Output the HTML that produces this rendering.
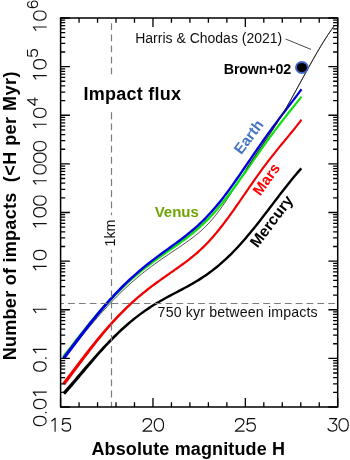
<!DOCTYPE html><html><head><meta charset="utf-8"><title>Impact flux</title>
<style>html,body{margin:0;padding:0;background:#fff;}svg{display:block;will-change:transform;}text{font-family:"Liberation Sans",sans-serif;}</style></head><body>
<svg width="350" height="460" viewBox="0 0 350 460">
<rect width="350" height="460" fill="#fff"/>
<path d="M63.60 358.60 C64.16 357.90 65.85 355.82 66.98 354.42 C68.11 353.03 69.23 351.63 70.36 350.23 C71.49 348.83 72.61 347.43 73.74 346.03 C74.87 344.64 75.99 343.24 77.12 341.85 C78.25 340.45 79.37 339.06 80.50 337.68 C81.63 336.29 82.75 334.91 83.88 333.54 C85.01 332.17 86.13 330.80 87.26 329.44 C88.39 328.09 89.51 326.74 90.64 325.40 C91.77 324.06 92.89 322.73 94.02 321.41 C95.15 320.09 96.27 318.78 97.40 317.48 C98.53 316.19 99.65 314.90 100.78 313.63 C101.91 312.36 103.03 311.10 104.16 309.85 C105.29 308.61 106.41 307.38 107.54 306.16 C108.67 304.94 109.79 303.74 110.92 302.55 C112.05 301.37 113.17 300.19 114.30 299.04 C115.43 297.88 116.55 296.74 117.68 295.61 C118.81 294.49 119.93 293.38 121.06 292.28 C122.19 291.19 123.31 290.11 124.44 289.05 C125.57 287.98 126.69 286.94 127.82 285.91 C128.95 284.88 130.07 283.86 131.20 282.86 C132.33 281.86 133.45 280.88 134.58 279.91 C135.71 278.94 136.83 277.98 137.96 277.04 C139.09 276.10 140.21 275.17 141.34 274.26 C142.47 273.35 143.59 272.45 144.72 271.57 C145.85 270.68 146.97 269.81 148.10 268.95 C149.23 268.09 150.35 267.24 151.48 266.40 C152.61 265.57 153.73 264.74 154.86 263.92 C155.99 263.11 157.11 262.30 158.24 261.50 C159.37 260.70 160.49 259.91 161.62 259.13 C162.75 258.34 163.87 257.57 165.00 256.80 C166.13 256.02 167.25 255.26 168.38 254.50 C169.51 253.73 170.63 252.98 171.76 252.22 C172.89 251.46 174.01 250.70 175.14 249.95 C176.27 249.19 177.39 248.43 178.52 247.67 C179.65 246.91 180.77 246.14 181.90 245.37 C183.03 244.59 184.15 243.82 185.28 243.03 C186.41 242.23 187.53 241.43 188.66 240.62 C189.79 239.80 190.91 238.97 192.04 238.11 C193.17 237.26 194.29 236.39 195.42 235.49 C196.55 234.59 197.67 233.67 198.80 232.71 C199.93 231.75 201.05 230.77 202.18 229.74 C203.31 228.72 204.43 227.66 205.56 226.55 C206.69 225.44 207.81 224.29 208.94 223.09 C210.07 221.88 211.19 220.63 212.32 219.32 C213.45 218.02 214.57 216.65 215.70 215.24 C216.83 213.83 217.95 212.36 219.08 210.84 C220.21 209.33 221.33 207.76 222.46 206.16 C223.59 204.55 224.71 202.90 225.84 201.22 C226.97 199.54 228.09 197.82 229.22 196.09 C230.35 194.35 231.47 192.58 232.60 190.81 C233.73 189.04 234.85 187.25 235.98 185.46 C237.11 183.67 238.23 181.87 239.36 180.08 C240.49 178.29 241.61 176.50 242.74 174.72 C243.87 172.95 244.99 171.17 246.12 169.42 C247.25 167.66 248.37 165.92 249.50 164.19 C250.63 162.46 251.75 160.74 252.88 159.04 C254.01 157.34 255.13 155.65 256.26 153.97 C257.39 152.30 258.51 150.64 259.64 148.98 C260.77 147.32 261.89 145.68 263.02 144.03 C264.15 142.38 265.27 140.74 266.40 139.08 C267.53 137.43 268.65 135.78 269.78 134.11 C270.91 132.43 272.03 130.75 273.16 129.03 C274.29 127.32 275.41 125.58 276.54 123.82 C277.67 122.05 278.79 120.25 279.92 118.42 C281.05 116.59 282.17 114.73 283.30 112.84 C284.43 110.95 285.55 109.02 286.68 107.07 C287.81 105.12 288.93 103.14 290.06 101.14 C291.19 99.14 292.31 97.12 293.44 95.09 C294.57 93.06 295.69 91.01 296.82 88.95 C297.95 86.90 299.07 84.83 300.20 82.77 C301.33 80.71 302.45 78.64 303.58 76.58 C304.71 74.52 305.83 72.45 306.96 70.41 C308.09 68.36 309.21 66.32 310.34 64.30 C311.47 62.28 312.59 60.27 313.72 58.29 C314.85 56.31 315.97 54.35 317.10 52.41 C318.23 50.48 319.35 48.57 320.48 46.70 C321.61 44.83 322.73 42.98 323.86 41.18 C324.99 39.38 326.11 37.61 327.24 35.89 C328.37 34.17 329.49 32.49 330.62 30.86 C331.75 29.24 333.44 26.92 334.00 26.13" fill="none" stroke="#222" stroke-width="0.8"/>
<path d="M65.06 394.76 L67.03 392.53 L69.01 390.26 L70.99 387.97 L72.96 385.67 L74.94 383.35 L76.91 381.02 L78.88 378.68 L80.85 376.34 L82.82 374.00 L84.79 371.66 L86.75 369.32 L88.72 367.00 L90.68 364.68 L92.65 362.38 L94.61 360.10 L96.57 357.83 L98.53 355.59 L100.49 353.37 L102.45 351.17 L104.41 349.00 L106.36 346.86 L108.32 344.75 L110.28 342.68 L112.24 340.64 L114.21 338.64 L116.17 336.67 L118.14 334.74 L120.10 332.85 L122.07 331.00 L124.03 329.18 L125.99 327.40 L127.96 325.67 L129.92 323.97 L131.88 322.31 L133.85 320.69 L135.81 319.11 L137.78 317.58 L139.74 316.08 L141.71 314.62 L143.68 313.20 L145.64 311.81 L147.61 310.46 L149.57 309.14 L151.54 307.85 L153.51 306.59 L155.48 305.37 L157.44 304.17 L159.41 303.00 L161.38 301.85 L163.35 300.72 L165.32 299.62 L167.29 298.53 L169.27 297.46 L171.24 296.39 L173.22 295.34 L175.19 294.30 L177.17 293.26 L179.15 292.22 L181.13 291.18 L183.11 290.13 L185.10 289.08 L187.08 288.01 L189.07 286.92 L191.05 285.82 L193.04 284.69 L195.03 283.54 L197.02 282.35 L199.01 281.14 L201.01 279.89 L203.00 278.60 L204.99 277.27 L206.99 275.91 L208.98 274.50 L210.97 273.05 L212.97 271.55 L214.96 270.00 L216.95 268.41 L218.94 266.77 L220.94 265.08 L222.93 263.34 L224.92 261.56 L226.91 259.72 L228.90 257.83 L230.89 255.89 L232.88 253.91 L234.87 251.87 L236.86 249.79 L238.85 247.66 L240.84 245.49 L242.82 243.27 L244.81 241.01 L246.80 238.71 L248.78 236.37 L250.77 233.99 L252.75 231.58 L254.73 229.13 L256.72 226.66 L258.70 224.16 L260.68 221.64 L262.66 219.10 L264.65 216.54 L266.63 213.96 L268.61 211.38 L270.59 208.78 L272.57 206.18 L274.55 203.58 L276.53 200.99 L278.50 198.40 L280.48 195.81 L282.46 193.25 L284.43 190.69 L286.41 188.16 L288.39 185.66 L290.36 183.18 L292.33 180.74 L294.31 178.34 L296.28 175.97 L298.25 173.66 L300.22 171.39 L302.20 169.18 L300.40 167.58 L298.42 169.81 L296.43 172.09 L294.44 174.43 L292.46 176.81 L290.47 179.23 L288.49 181.68 L286.51 184.17 L284.52 186.68 L282.54 189.22 L280.56 191.78 L278.58 194.35 L276.60 196.94 L274.62 199.53 L272.64 202.13 L270.66 204.73 L268.68 207.33 L266.70 209.92 L264.72 212.50 L262.75 215.07 L260.77 217.63 L258.79 220.16 L256.82 222.68 L254.84 225.17 L252.87 227.63 L250.89 230.06 L248.92 232.46 L246.94 234.82 L244.97 237.15 L243.00 239.43 L241.03 241.67 L239.06 243.88 L237.09 246.03 L235.12 248.14 L233.15 250.20 L231.18 252.22 L229.21 254.18 L227.24 256.10 L225.27 257.97 L223.30 259.78 L221.34 261.55 L219.37 263.26 L217.41 264.93 L215.44 266.55 L213.47 268.12 L211.51 269.64 L209.54 271.12 L207.58 272.55 L205.61 273.94 L203.65 275.28 L201.68 276.59 L199.72 277.86 L197.75 279.10 L195.78 280.30 L193.82 281.47 L191.85 282.61 L189.88 283.73 L187.91 284.82 L185.94 285.90 L183.96 286.96 L181.99 288.01 L180.01 289.06 L178.03 290.10 L176.05 291.14 L174.07 292.18 L172.09 293.22 L170.11 294.28 L168.13 295.34 L166.14 296.42 L164.15 297.51 L162.16 298.63 L160.18 299.76 L158.19 300.92 L156.20 302.10 L154.21 303.31 L152.22 304.54 L150.23 305.81 L148.23 307.11 L146.24 308.44 L144.25 309.81 L142.26 311.21 L140.27 312.65 L138.27 314.13 L136.28 315.64 L134.29 317.19 L132.30 318.78 L130.30 320.40 L128.30 322.07 L126.31 323.77 L124.31 325.52 L122.32 327.30 L120.32 329.12 L118.33 330.98 L116.34 332.88 L114.34 334.81 L112.35 336.78 L110.36 338.79 L108.36 340.83 L106.36 342.89 L104.36 344.99 L102.36 347.12 L100.36 349.27 L98.36 351.45 L96.36 353.66 L94.36 355.89 L92.37 358.14 L90.37 360.41 L88.38 362.70 L86.38 365.00 L84.39 367.31 L82.40 369.62 L80.40 371.94 L78.41 374.27 L76.43 376.59 L74.44 378.91 L72.46 381.23 L70.47 383.53 L68.49 385.81 L66.51 388.07 L64.53 390.31 L62.54 392.53Z" fill="#000"/>
<path d="M65.14 384.90 L67.11 382.28 L69.09 379.65 L71.06 377.01 L73.04 374.37 L75.01 371.72 L76.98 369.08 L78.95 366.44 L80.92 363.81 L82.89 361.18 L84.85 358.57 L86.81 355.97 L88.78 353.39 L90.74 350.83 L92.70 348.29 L94.66 345.77 L96.62 343.29 L98.58 340.83 L100.54 338.39 L102.50 335.99 L104.46 333.62 L106.42 331.29 L108.38 328.99 L110.34 326.72 L112.30 324.50 L114.27 322.31 L116.24 320.17 L118.21 318.06 L120.17 315.99 L122.14 313.95 L124.11 311.96 L126.07 310.01 L128.04 308.09 L130.01 306.21 L131.97 304.37 L133.94 302.56 L135.91 300.80 L137.87 299.07 L139.84 297.37 L141.81 295.71 L143.78 294.08 L145.75 292.48 L147.72 290.91 L149.69 289.36 L151.66 287.84 L153.63 286.35 L155.61 284.88 L157.58 283.43 L159.55 281.99 L161.53 280.57 L163.50 279.17 L165.48 277.77 L167.45 276.38 L169.43 274.99 L171.41 273.61 L173.39 272.23 L175.37 270.84 L177.36 269.44 L179.34 268.03 L181.33 266.60 L183.31 265.16 L185.30 263.69 L187.29 262.19 L189.28 260.66 L191.27 259.10 L193.26 257.49 L195.25 255.84 L197.25 254.14 L199.24 252.38 L201.23 250.57 L203.23 248.69 L205.22 246.74 L207.22 244.73 L209.21 242.65 L211.20 240.49 L213.19 238.27 L215.18 235.97 L217.17 233.61 L219.16 231.18 L221.15 228.69 L223.14 226.15 L225.13 223.55 L227.11 220.90 L229.10 218.20 L231.08 215.47 L233.07 212.70 L235.05 209.90 L237.03 207.08 L239.01 204.23 L240.99 201.37 L242.97 198.50 L244.95 195.62 L246.93 192.74 L248.91 189.87 L250.89 187.01 L252.87 184.16 L254.85 181.33 L256.82 178.52 L258.80 175.74 L260.78 172.99 L262.75 170.28 L264.73 167.60 L266.70 164.95 L268.68 162.34 L270.66 159.77 L272.63 157.22 L274.61 154.71 L276.58 152.23 L278.56 149.78 L280.54 147.35 L282.51 144.93 L284.49 142.53 L286.47 140.14 L288.45 137.75 L290.43 135.35 L292.42 132.94 L294.40 130.50 L296.38 128.04 L298.37 125.53 L300.35 122.97 L302.34 120.36 L300.66 119.08 L298.68 121.69 L296.71 124.23 L294.73 126.72 L292.75 129.17 L290.78 131.59 L288.80 134.00 L286.82 136.39 L284.83 138.78 L282.85 141.18 L280.87 143.58 L278.88 146.00 L276.90 148.43 L274.91 150.89 L272.93 153.38 L270.94 155.90 L268.96 158.45 L266.97 161.04 L264.99 163.66 L263.00 166.31 L261.01 169.00 L259.03 171.73 L257.04 174.48 L255.06 177.27 L253.07 180.08 L251.09 182.91 L249.11 185.77 L247.12 188.63 L245.14 191.51 L243.16 194.38 L241.18 197.26 L239.20 200.13 L237.21 202.98 L235.23 205.82 L233.26 208.64 L231.28 211.43 L229.30 214.18 L227.32 216.90 L225.34 219.58 L223.37 222.22 L221.39 224.80 L219.42 227.33 L217.45 229.79 L215.47 232.20 L213.50 234.53 L211.53 236.80 L209.56 239.00 L207.59 241.13 L205.62 243.18 L203.66 245.17 L201.69 247.08 L199.72 248.94 L197.75 250.72 L195.79 252.46 L193.82 254.13 L191.85 255.76 L189.88 257.35 L187.91 258.90 L185.94 260.41 L183.96 261.89 L181.99 263.35 L180.01 264.79 L178.04 266.20 L176.06 267.61 L174.08 269.00 L172.10 270.38 L170.12 271.76 L168.14 273.14 L166.15 274.52 L164.17 275.91 L162.18 277.30 L160.20 278.71 L158.21 280.13 L156.22 281.56 L154.23 283.02 L152.24 284.49 L150.25 285.99 L148.26 287.51 L146.27 289.06 L144.28 290.64 L142.28 292.24 L140.29 293.88 L138.30 295.55 L136.31 297.26 L134.31 299.00 L132.32 300.77 L130.32 302.58 L128.33 304.43 L126.33 306.31 L124.34 308.24 L122.34 310.20 L120.35 312.20 L118.35 314.23 L116.36 316.31 L114.37 318.43 L112.37 320.58 L110.38 322.77 L108.38 324.99 L106.38 327.25 L104.38 329.54 L102.37 331.86 L100.37 334.22 L98.37 336.61 L96.37 339.03 L94.37 341.48 L92.37 343.95 L90.36 346.45 L88.36 348.98 L86.36 351.52 L84.36 354.09 L82.36 356.67 L80.37 359.27 L78.37 361.88 L76.38 364.50 L74.39 367.13 L72.40 369.76 L70.41 372.39 L68.42 375.02 L66.44 377.65 L64.45 380.26 L62.46 382.86Z" fill="#f00000"/>
<path d="M64.86 358.08 L66.84 355.51 L68.82 352.94 L70.80 350.37 L72.77 347.80 L74.75 345.23 L76.73 342.67 L78.71 340.11 L80.68 337.57 L82.65 335.04 L84.62 332.52 L86.58 330.02 L88.55 327.54 L90.52 325.08 L92.48 322.64 L94.45 320.23 L96.41 317.84 L98.37 315.49 L100.34 313.16 L102.30 310.86 L104.27 308.59 L106.23 306.36 L108.19 304.15 L110.16 301.98 L112.13 299.85 L114.10 297.76 L116.07 295.70 L118.04 293.68 L120.01 291.69 L121.98 289.74 L123.95 287.83 L125.92 285.95 L127.89 284.10 L129.86 282.29 L131.83 280.51 L133.80 278.77 L135.77 277.06 L137.74 275.38 L139.71 273.74 L141.69 272.12 L143.66 270.53 L145.63 268.97 L147.61 267.44 L149.58 265.93 L151.56 264.44 L153.53 262.97 L155.51 261.52 L157.48 260.09 L159.46 258.67 L161.44 257.27 L163.42 255.87 L165.40 254.48 L167.38 253.10 L169.36 251.72 L171.34 250.34 L173.32 248.95 L175.31 247.56 L177.30 246.16 L179.28 244.75 L181.27 243.32 L183.26 241.87 L185.25 240.40 L187.24 238.90 L189.23 237.37 L191.23 235.81 L193.22 234.21 L195.21 232.56 L197.21 230.87 L199.21 229.13 L201.20 227.34 L203.20 225.50 L205.19 223.60 L207.19 221.64 L209.18 219.63 L211.18 217.56 L213.17 215.43 L215.16 213.24 L217.16 211.00 L219.15 208.69 L221.14 206.33 L223.13 203.91 L225.12 201.44 L227.11 198.92 L229.10 196.36 L231.09 193.74 L233.07 191.08 L235.06 188.39 L237.04 185.65 L239.02 182.89 L241.00 180.10 L242.99 177.30 L244.97 174.47 L246.95 171.64 L248.93 168.80 L250.91 165.96 L252.89 163.11 L254.86 160.28 L256.84 157.45 L258.82 154.64 L260.80 151.83 L262.77 149.05 L264.75 146.28 L266.73 143.53 L268.71 140.80 L270.68 138.09 L272.66 135.41 L274.64 132.75 L276.61 130.11 L278.59 127.49 L280.57 124.90 L282.54 122.32 L284.52 119.77 L286.50 117.23 L288.47 114.71 L290.45 112.20 L292.43 109.71 L294.41 107.22 L296.39 104.74 L298.37 102.26 L300.35 99.78 L302.33 97.30 L300.67 95.98 L298.69 98.46 L296.70 100.93 L294.72 103.41 L292.73 105.88 L290.75 108.37 L288.76 110.86 L286.77 113.37 L284.78 115.89 L282.80 118.42 L280.81 120.98 L278.82 123.56 L276.83 126.15 L274.84 128.77 L272.85 131.41 L270.87 134.08 L268.88 136.77 L266.89 139.47 L264.90 142.21 L262.91 144.96 L260.93 147.73 L258.94 150.51 L256.95 153.32 L254.96 156.13 L252.98 158.96 L250.99 161.79 L249.00 164.63 L247.02 167.46 L245.03 170.30 L243.05 173.13 L241.06 175.94 L239.08 178.74 L237.10 181.51 L235.12 184.26 L233.13 186.98 L231.15 189.66 L229.17 192.30 L227.20 194.89 L225.22 197.45 L223.24 199.95 L221.27 202.40 L219.30 204.79 L217.32 207.13 L215.35 209.41 L213.38 211.64 L211.41 213.80 L209.43 215.91 L207.46 217.95 L205.49 219.94 L203.52 221.87 L201.55 223.75 L199.58 225.57 L197.61 227.33 L195.65 229.05 L193.68 230.72 L191.70 232.35 L189.73 233.93 L187.76 235.48 L185.79 236.99 L183.81 238.48 L181.84 239.94 L179.86 241.38 L177.89 242.80 L175.91 244.21 L173.93 245.60 L171.95 246.99 L169.97 248.37 L167.99 249.75 L166.00 251.13 L164.02 252.51 L162.03 253.90 L160.05 255.30 L158.06 256.70 L156.07 258.13 L154.08 259.56 L152.09 261.02 L150.10 262.50 L148.11 263.99 L146.12 265.51 L144.13 267.06 L142.14 268.63 L140.15 270.22 L138.16 271.85 L136.17 273.51 L134.17 275.20 L132.18 276.91 L130.18 278.67 L128.19 280.45 L126.19 282.27 L124.20 284.12 L122.20 286.01 L120.21 287.93 L118.21 289.89 L116.22 291.88 L114.22 293.91 L112.23 295.98 L110.23 298.08 L108.24 300.21 L106.24 302.37 L104.23 304.57 L102.23 306.80 L100.23 309.06 L98.23 311.35 L96.23 313.67 L94.23 316.02 L92.23 318.39 L90.23 320.80 L88.23 323.22 L86.23 325.67 L84.23 328.14 L82.23 330.63 L80.23 333.14 L78.24 335.66 L76.25 338.20 L74.26 340.75 L72.27 343.31 L70.29 345.88 L68.30 348.44 L66.31 351.01 L64.33 353.57 L62.34 356.13Z" fill="#10e010"/>
<path d="M64.87 359.28 L66.85 356.66 L68.83 354.04 L70.81 351.41 L72.78 348.78 L74.76 346.16 L76.74 343.53 L78.72 340.91 L80.69 338.30 L82.67 335.70 L84.64 333.12 L86.60 330.55 L88.57 327.99 L90.54 325.46 L92.51 322.95 L94.48 320.47 L96.44 318.01 L98.41 315.57 L100.37 313.17 L102.34 310.79 L104.30 308.45 L106.26 306.13 L108.23 303.85 L110.19 301.61 L112.16 299.40 L114.13 297.23 L116.10 295.10 L118.07 293.00 L120.04 290.94 L122.00 288.91 L123.97 286.92 L125.94 284.97 L127.91 283.05 L129.88 281.17 L131.85 279.32 L133.82 277.51 L135.78 275.73 L137.76 273.99 L139.73 272.28 L141.70 270.60 L143.68 268.95 L145.65 267.33 L147.63 265.73 L149.60 264.16 L151.57 262.61 L153.55 261.09 L155.53 259.58 L157.50 258.09 L159.48 256.62 L161.46 255.16 L163.44 253.71 L165.42 252.26 L167.40 250.83 L169.38 249.39 L171.36 247.96 L173.34 246.52 L175.33 245.07 L177.31 243.62 L179.30 242.15 L181.29 240.66 L183.28 239.16 L185.27 237.63 L187.26 236.07 L189.25 234.48 L191.24 232.85 L193.24 231.18 L195.23 229.47 L197.23 227.71 L199.22 225.90 L201.22 224.04 L203.21 222.12 L205.21 220.14 L207.20 218.11 L209.20 216.01 L211.19 213.86 L213.19 211.64 L215.18 209.36 L217.17 207.02 L219.16 204.63 L221.15 202.17 L223.14 199.66 L225.13 197.10 L227.12 194.48 L229.11 191.82 L231.10 189.11 L233.09 186.35 L235.07 183.56 L237.05 180.74 L239.04 177.88 L241.02 175.01 L243.00 172.11 L244.98 169.21 L246.96 166.29 L248.94 163.38 L250.92 160.47 L252.90 157.56 L254.88 154.66 L256.86 151.78 L258.84 148.91 L260.82 146.06 L262.80 143.22 L264.78 140.41 L266.75 137.62 L268.73 134.86 L270.71 132.11 L272.69 129.39 L274.66 126.69 L276.64 124.02 L278.62 121.36 L280.60 118.72 L282.58 116.09 L284.56 113.48 L286.53 110.88 L288.51 108.28 L290.49 105.69 L292.48 103.10 L294.46 100.50 L296.44 97.89 L298.42 95.26 L300.41 92.61 L302.39 89.93 L300.61 88.61 L298.63 91.28 L296.65 93.92 L294.67 96.54 L292.68 99.15 L290.70 101.74 L288.72 104.33 L286.73 106.92 L284.75 109.51 L282.76 112.11 L280.77 114.73 L278.79 117.35 L276.80 120.00 L274.81 122.66 L272.83 125.34 L270.84 128.04 L268.85 130.77 L266.86 133.51 L264.88 136.28 L262.89 139.08 L260.90 141.89 L258.92 144.73 L256.93 147.58 L254.94 150.45 L252.96 153.34 L250.97 156.24 L248.99 159.14 L247.00 162.05 L245.02 164.97 L243.03 167.87 L241.05 170.77 L239.06 173.66 L237.08 176.53 L235.10 179.37 L233.12 182.18 L231.14 184.96 L229.16 187.69 L227.18 190.39 L225.21 193.04 L223.23 195.64 L221.26 198.18 L219.28 200.67 L217.31 203.11 L215.33 205.48 L213.36 207.79 L211.39 210.05 L209.42 212.24 L207.45 214.37 L205.48 216.44 L203.51 218.45 L201.54 220.40 L199.57 222.29 L197.60 224.13 L195.63 225.92 L193.66 227.66 L191.69 229.35 L189.72 231.00 L187.74 232.61 L185.77 234.18 L183.80 235.73 L181.82 237.25 L179.85 238.74 L177.87 240.22 L175.89 241.68 L173.91 243.13 L171.93 244.57 L169.95 246.01 L167.97 247.44 L165.98 248.88 L164.00 250.32 L162.01 251.76 L160.03 253.21 L158.04 254.68 L156.05 256.16 L154.06 257.65 L152.07 259.16 L150.09 260.70 L148.10 262.25 L146.10 263.83 L144.11 265.44 L142.12 267.07 L140.13 268.73 L138.14 270.42 L136.15 272.15 L134.16 273.90 L132.16 275.68 L130.16 277.50 L128.17 279.35 L126.17 281.24 L124.17 283.16 L122.18 285.12 L120.18 287.11 L118.18 289.14 L116.19 291.21 L114.19 293.31 L112.20 295.45 L110.20 297.63 L108.20 299.84 L106.20 302.07 L104.20 304.35 L102.20 306.65 L100.20 308.99 L98.20 311.36 L96.20 313.76 L94.20 316.18 L92.20 318.64 L90.20 321.12 L88.20 323.62 L86.21 326.15 L84.21 328.69 L82.21 331.25 L80.22 333.83 L78.23 336.42 L76.24 339.03 L74.25 341.65 L72.26 344.27 L70.28 346.89 L68.29 349.51 L66.30 352.13 L64.32 354.75 L62.33 357.35Z" fill="#0000e0"/>
<path d="M246.12 169.42 C246.68 168.55 248.37 165.92 249.50 164.19 C250.63 162.46 251.75 160.74 252.88 159.04 C254.01 157.34 255.13 155.65 256.26 153.97 C257.39 152.30 258.51 150.64 259.64 148.98 C260.77 147.32 261.89 145.68 263.02 144.03 C264.15 142.38 265.27 140.74 266.40 139.08 C267.53 137.43 268.65 135.78 269.78 134.11 C270.91 132.43 272.03 130.75 273.16 129.03 C274.29 127.32 275.41 125.58 276.54 123.82 C277.67 122.05 278.79 120.25 279.92 118.42 C281.05 116.59 282.17 114.73 283.30 112.84 C284.43 110.95 285.55 109.02 286.68 107.07 C287.81 105.12 288.93 103.14 290.06 101.14 C291.19 99.14 292.31 97.12 293.44 95.09 C294.57 93.06 295.69 91.01 296.82 88.95 C297.95 86.90 299.07 84.83 300.20 82.77 C301.33 80.71 302.45 78.64 303.58 76.58 C304.71 74.52 305.83 72.45 306.96 70.41 C308.09 68.36 309.21 66.32 310.34 64.30 C311.47 62.28 312.59 60.27 313.72 58.29 C314.85 56.31 315.97 54.35 317.10 52.41 C318.23 50.48 319.35 48.57 320.48 46.70 C321.61 44.83 322.73 42.98 323.86 41.18 C324.99 39.38 326.11 37.61 327.24 35.89 C328.37 34.17 329.49 32.49 330.62 30.86 C331.75 29.24 333.44 26.92 334.00 26.13" fill="none" stroke="#222" stroke-width="0.8"/>
<line x1="111.5" y1="18" x2="111.5" y2="407.0" stroke="#7c7c7c" stroke-width="1.2" stroke-dasharray="6.8 4.33" stroke-dashoffset="5.83"/>
<line x1="60.6" y1="303.5" x2="337.7" y2="303.5" stroke="#7c7c7c" stroke-width="1.2" stroke-dasharray="6.7 4.14" stroke-dashoffset="3.34"/>
<rect x="80" y="74.5" width="106" height="37.5" fill="#fff"/>
<rect x="100" y="215.2" width="18" height="34.6" fill="#fff"/>
<line x1="285.6" y1="39" x2="311" y2="49.4" stroke="#333" stroke-width="0.9"/>
<ellipse cx="301.9" cy="67.5" rx="6.85" ry="6.4" fill="#3f68cc"/><ellipse cx="301.9" cy="67.5" rx="5.0" ry="4.55" fill="#000"/>
<rect x="60.60" y="18.00" width="277.10" height="389.00" fill="none" stroke="#000" stroke-width="1.5"/>
<path d="M60.60 18.00v9.00M60.60 407.00v-9.00M79.07 18.00v4.80M79.07 407.00v-4.80M97.55 18.00v4.80M97.55 407.00v-4.80M116.02 18.00v4.80M116.02 407.00v-4.80M134.49 18.00v4.80M134.49 407.00v-4.80M152.97 18.00v9.00M152.97 407.00v-9.00M171.44 18.00v4.80M171.44 407.00v-4.80M189.91 18.00v4.80M189.91 407.00v-4.80M208.39 18.00v4.80M208.39 407.00v-4.80M226.86 18.00v4.80M226.86 407.00v-4.80M245.33 18.00v9.00M245.33 407.00v-9.00M263.81 18.00v4.80M263.81 407.00v-4.80M282.28 18.00v4.80M282.28 407.00v-4.80M300.75 18.00v4.80M300.75 407.00v-4.80M319.23 18.00v4.80M319.23 407.00v-4.80M337.70 18.00v9.00M337.70 407.00v-9.00M60.60 407.00h9.30M337.70 407.00h-9.30M60.60 392.36h4.60M337.70 392.36h-4.60M60.60 383.80h4.60M337.70 383.80h-4.60M60.60 377.72h4.60M337.70 377.72h-4.60M60.60 373.01h4.60M337.70 373.01h-4.60M60.60 369.16h4.60M337.70 369.16h-4.60M60.60 365.91h4.60M337.70 365.91h-4.60M60.60 363.09h4.60M337.70 363.09h-4.60M60.60 360.60h4.60M337.70 360.60h-4.60M60.60 358.38h9.30M337.70 358.38h-9.30M60.60 343.74h4.60M337.70 343.74h-4.60M60.60 335.17h4.60M337.70 335.17h-4.60M60.60 329.10h4.60M337.70 329.10h-4.60M60.60 324.39h4.60M337.70 324.39h-4.60M60.60 320.54h4.60M337.70 320.54h-4.60M60.60 317.28h4.60M337.70 317.28h-4.60M60.60 314.46h4.60M337.70 314.46h-4.60M60.60 311.97h4.60M337.70 311.97h-4.60M60.60 309.75h9.30M337.70 309.75h-9.30M60.60 295.11h4.60M337.70 295.11h-4.60M60.60 286.55h4.60M337.70 286.55h-4.60M60.60 280.47h4.60M337.70 280.47h-4.60M60.60 275.76h4.60M337.70 275.76h-4.60M60.60 271.91h4.60M337.70 271.91h-4.60M60.60 268.66h4.60M337.70 268.66h-4.60M60.60 265.84h4.60M337.70 265.84h-4.60M60.60 263.35h4.60M337.70 263.35h-4.60M60.60 261.12h9.30M337.70 261.12h-9.30M60.60 246.49h4.60M337.70 246.49h-4.60M60.60 237.92h4.60M337.70 237.92h-4.60M60.60 231.85h4.60M337.70 231.85h-4.60M60.60 227.14h4.60M337.70 227.14h-4.60M60.60 223.29h4.60M337.70 223.29h-4.60M60.60 220.03h4.60M337.70 220.03h-4.60M60.60 217.21h4.60M337.70 217.21h-4.60M60.60 214.72h4.60M337.70 214.72h-4.60M60.60 212.50h9.30M337.70 212.50h-9.30M60.60 197.86h4.60M337.70 197.86h-4.60M60.60 189.30h4.60M337.70 189.30h-4.60M60.60 183.22h4.60M337.70 183.22h-4.60M60.60 178.51h4.60M337.70 178.51h-4.60M60.60 174.66h4.60M337.70 174.66h-4.60M60.60 171.41h4.60M337.70 171.41h-4.60M60.60 168.59h4.60M337.70 168.59h-4.60M60.60 166.10h4.60M337.70 166.10h-4.60M60.60 163.88h9.30M337.70 163.88h-9.30M60.60 149.24h4.60M337.70 149.24h-4.60M60.60 140.67h4.60M337.70 140.67h-4.60M60.60 134.60h4.60M337.70 134.60h-4.60M60.60 129.89h4.60M337.70 129.89h-4.60M60.60 126.04h4.60M337.70 126.04h-4.60M60.60 122.78h4.60M337.70 122.78h-4.60M60.60 119.96h4.60M337.70 119.96h-4.60M60.60 117.47h4.60M337.70 117.47h-4.60M60.60 115.25h9.30M337.70 115.25h-9.30M60.60 100.61h4.60M337.70 100.61h-4.60M60.60 92.05h4.60M337.70 92.05h-4.60M60.60 85.97h4.60M337.70 85.97h-4.60M60.60 81.26h4.60M337.70 81.26h-4.60M60.60 77.41h4.60M337.70 77.41h-4.60M60.60 74.16h4.60M337.70 74.16h-4.60M60.60 71.34h4.60M337.70 71.34h-4.60M60.60 68.85h4.60M337.70 68.85h-4.60M60.60 66.62h9.30M337.70 66.62h-9.30M60.60 51.99h4.60M337.70 51.99h-4.60M60.60 43.42h4.60M337.70 43.42h-4.60M60.60 37.35h4.60M337.70 37.35h-4.60M60.60 32.64h4.60M337.70 32.64h-4.60M60.60 28.79h4.60M337.70 28.79h-4.60M60.60 25.53h4.60M337.70 25.53h-4.60M60.60 22.71h4.60M337.70 22.71h-4.60M60.60 20.22h4.60M337.70 20.22h-4.60M60.60 18.00h9.30M337.70 18.00h-9.30" stroke="#000" stroke-width="1.3" fill="none"/>
<g transform="translate(49.10 431.7)" fill="none" stroke="#111" stroke-width="1.15" stroke-linejoin="round"><path transform="translate(0.00 0)" d="M6 0 L6 -13.45 L2.3 -10.5"/><path transform="translate(11.60 0)" d="M9.8 -13.12 L2.4 -13.12 L1.7 -7.2 C2.8 -8.3 4.2 -8.8 5.6 -8.8 C8.2 -8.8 9.95 -7.1 9.95 -4.7 C9.95 -2.3 8.1 -0.58 5.5 -0.58 C3.4 -0.58 1.8 -1.5 1.1 -3.2"/></g>
<g transform="translate(141.47 431.7)" fill="none" stroke="#111" stroke-width="1.15" stroke-linejoin="round"><path transform="translate(0.00 0)" d="M1.6 -9.5 C1.6 -11.8 3.2 -13.12 5.7 -13.12 C8.3 -13.12 10.1 -11.7 10.1 -9.6 C10.1 -7.9 9.1 -6.8 7.4 -5.4 L1.5 -0.58 L10.7 -0.58"/><path transform="translate(11.60 0)" d="M1.15 -6.85 C1.15 -10.62 3.01 -13.13 5.80 -13.13 C8.59 -13.13 10.45 -10.62 10.45 -6.85 C10.45 -3.08 8.59 -0.57 5.80 -0.57 C3.01 -0.57 1.15 -3.08 1.15 -6.85Z"/></g>
<g transform="translate(233.83 431.7)" fill="none" stroke="#111" stroke-width="1.15" stroke-linejoin="round"><path transform="translate(0.00 0)" d="M1.6 -9.5 C1.6 -11.8 3.2 -13.12 5.7 -13.12 C8.3 -13.12 10.1 -11.7 10.1 -9.6 C10.1 -7.9 9.1 -6.8 7.4 -5.4 L1.5 -0.58 L10.7 -0.58"/><path transform="translate(11.60 0)" d="M9.8 -13.12 L2.4 -13.12 L1.7 -7.2 C2.8 -8.3 4.2 -8.8 5.6 -8.8 C8.2 -8.8 9.95 -7.1 9.95 -4.7 C9.95 -2.3 8.1 -0.58 5.5 -0.58 C3.4 -0.58 1.8 -1.5 1.1 -3.2"/></g>
<g transform="translate(326.20 431.7)" fill="none" stroke="#111" stroke-width="1.15" stroke-linejoin="round"><path transform="translate(0.00 0)" d="M2.9 -13.12 L10.4 -13.12 L6.4 -8.2 C9.1 -8.4 10.7 -6.6 10.7 -4.4 C10.7 -2.1 8.9 -0.58 6.3 -0.58 C3.9 -0.58 2.2 -1.6 1.6 -3.4"/><path transform="translate(11.60 0)" d="M1.15 -6.85 C1.15 -10.62 3.01 -13.13 5.80 -13.13 C8.59 -13.13 10.45 -10.62 10.45 -6.85 C10.45 -3.08 8.59 -0.57 5.80 -0.57 C3.01 -0.57 1.15 -3.08 1.15 -6.85Z"/></g>
<g transform="translate(46.7 426.80) rotate(-90)" fill="none" stroke="#111" stroke-width="1.15" stroke-linejoin="round"><path transform="translate(0.00 0)" d="M1.15 -6.85 C1.15 -10.62 3.01 -13.13 5.80 -13.13 C8.59 -13.13 10.45 -10.62 10.45 -6.85 C10.45 -3.08 8.59 -0.57 5.80 -0.57 C3.01 -0.57 1.15 -3.08 1.15 -6.85Z"/><circle cx="14.30" cy="-0.8" r="0.85" fill="#111" stroke="none"/><path transform="translate(17.00 0)" d="M1.15 -6.85 C1.15 -10.62 3.01 -13.13 5.80 -13.13 C8.59 -13.13 10.45 -10.62 10.45 -6.85 C10.45 -3.08 8.59 -0.57 5.80 -0.57 C3.01 -0.57 1.15 -3.08 1.15 -6.85Z"/><path transform="translate(28.60 0)" d="M6 0 L6 -13.45 L2.3 -10.5"/></g>
<g transform="translate(46.7 372.38) rotate(-90)" fill="none" stroke="#111" stroke-width="1.15" stroke-linejoin="round"><path transform="translate(0.00 0)" d="M1.15 -6.85 C1.15 -10.62 3.01 -13.13 5.80 -13.13 C8.59 -13.13 10.45 -10.62 10.45 -6.85 C10.45 -3.08 8.59 -0.57 5.80 -0.57 C3.01 -0.57 1.15 -3.08 1.15 -6.85Z"/><circle cx="14.30" cy="-0.8" r="0.85" fill="#111" stroke="none"/><path transform="translate(17.00 0)" d="M6 0 L6 -13.45 L2.3 -10.5"/></g>
<g transform="translate(46.7 315.25) rotate(-90)" fill="none" stroke="#111" stroke-width="1.15" stroke-linejoin="round"><path transform="translate(0.00 0)" d="M6 0 L6 -13.45 L2.3 -10.5"/></g>
<g transform="translate(46.7 272.43) rotate(-90)" fill="none" stroke="#111" stroke-width="1.15" stroke-linejoin="round"><path transform="translate(0.00 0)" d="M6 0 L6 -13.45 L2.3 -10.5"/><path transform="translate(11.60 0)" d="M1.15 -6.85 C1.15 -10.62 3.01 -13.13 5.80 -13.13 C8.59 -13.13 10.45 -10.62 10.45 -6.85 C10.45 -3.08 8.59 -0.57 5.80 -0.57 C3.01 -0.57 1.15 -3.08 1.15 -6.85Z"/></g>
<g transform="translate(46.7 229.60) rotate(-90)" fill="none" stroke="#111" stroke-width="1.15" stroke-linejoin="round"><path transform="translate(0.00 0)" d="M6 0 L6 -13.45 L2.3 -10.5"/><path transform="translate(11.60 0)" d="M1.15 -6.85 C1.15 -10.62 3.01 -13.13 5.80 -13.13 C8.59 -13.13 10.45 -10.62 10.45 -6.85 C10.45 -3.08 8.59 -0.57 5.80 -0.57 C3.01 -0.57 1.15 -3.08 1.15 -6.85Z"/><path transform="translate(23.20 0)" d="M1.15 -6.85 C1.15 -10.62 3.01 -13.13 5.80 -13.13 C8.59 -13.13 10.45 -10.62 10.45 -6.85 C10.45 -3.08 8.59 -0.57 5.80 -0.57 C3.01 -0.57 1.15 -3.08 1.15 -6.85Z"/></g>
<g transform="translate(46.7 186.77) rotate(-90)" fill="none" stroke="#111" stroke-width="1.15" stroke-linejoin="round"><path transform="translate(0.00 0)" d="M6 0 L6 -13.45 L2.3 -10.5"/><path transform="translate(11.60 0)" d="M1.15 -6.85 C1.15 -10.62 3.01 -13.13 5.80 -13.13 C8.59 -13.13 10.45 -10.62 10.45 -6.85 C10.45 -3.08 8.59 -0.57 5.80 -0.57 C3.01 -0.57 1.15 -3.08 1.15 -6.85Z"/><path transform="translate(23.20 0)" d="M1.15 -6.85 C1.15 -10.62 3.01 -13.13 5.80 -13.13 C8.59 -13.13 10.45 -10.62 10.45 -6.85 C10.45 -3.08 8.59 -0.57 5.80 -0.57 C3.01 -0.57 1.15 -3.08 1.15 -6.85Z"/><path transform="translate(34.80 0)" d="M1.15 -6.85 C1.15 -10.62 3.01 -13.13 5.80 -13.13 C8.59 -13.13 10.45 -10.62 10.45 -6.85 C10.45 -3.08 8.59 -0.57 5.80 -0.57 C3.01 -0.57 1.15 -3.08 1.15 -6.85Z"/></g>
<g transform="translate(46.7 130.25) rotate(-90)" fill="none" stroke="#111" stroke-width="1.15" stroke-linejoin="round"><path transform="translate(0.00 0)" d="M6 0 L6 -13.45 L2.3 -10.5"/><path transform="translate(11.60 0)" d="M1.15 -6.85 C1.15 -10.62 3.01 -13.13 5.80 -13.13 C8.59 -13.13 10.45 -10.62 10.45 -6.85 C10.45 -3.08 8.59 -0.57 5.80 -0.57 C3.01 -0.57 1.15 -3.08 1.15 -6.85Z"/><g transform="translate(24.0 -8.7) scale(0.8)" stroke-width="1.35"><path transform="translate(0.00 0)" d="M8.1 0 L8.1 -13.3 L1 -3.9 L11 -3.9"/></g></g>
<g transform="translate(46.7 81.62) rotate(-90)" fill="none" stroke="#111" stroke-width="1.15" stroke-linejoin="round"><path transform="translate(0.00 0)" d="M6 0 L6 -13.45 L2.3 -10.5"/><path transform="translate(11.60 0)" d="M1.15 -6.85 C1.15 -10.62 3.01 -13.13 5.80 -13.13 C8.59 -13.13 10.45 -10.62 10.45 -6.85 C10.45 -3.08 8.59 -0.57 5.80 -0.57 C3.01 -0.57 1.15 -3.08 1.15 -6.85Z"/><g transform="translate(24.0 -8.7) scale(0.8)" stroke-width="1.35"><path transform="translate(0.00 0)" d="M9.8 -13.12 L2.4 -13.12 L1.7 -7.2 C2.8 -8.3 4.2 -8.8 5.6 -8.8 C8.2 -8.8 9.95 -7.1 9.95 -4.7 C9.95 -2.3 8.1 -0.58 5.5 -0.58 C3.4 -0.58 1.8 -1.5 1.1 -3.2"/></g></g>
<g transform="translate(46.7 33.00) rotate(-90)" fill="none" stroke="#111" stroke-width="1.15" stroke-linejoin="round"><path transform="translate(0.00 0)" d="M6 0 L6 -13.45 L2.3 -10.5"/><path transform="translate(11.60 0)" d="M1.15 -6.85 C1.15 -10.62 3.01 -13.13 5.80 -13.13 C8.59 -13.13 10.45 -10.62 10.45 -6.85 C10.45 -3.08 8.59 -0.57 5.80 -0.57 C3.01 -0.57 1.15 -3.08 1.15 -6.85Z"/><g transform="translate(24.0 -8.7) scale(0.8)" stroke-width="1.35"><path transform="translate(0.00 0)" d="M9.4 -10.5 C8.9 -12.2 7.6 -13.12 5.9 -13.12 C3 -13.12 1.6 -10.4 1.6 -6.6 C1.6 -2.6 3.1 -0.58 5.9 -0.58 C8.3 -0.58 9.95 -2.2 9.95 -4.5 C9.95 -6.8 8.3 -8.4 6 -8.4 C4 -8.4 2.4 -7.2 1.7 -5.4"/></g></g>
<text x="91.4" y="455.4" font-size="18" font-weight="bold" textLength="193.6">Absolute magnitude H</text>
<g transform="translate(16 360.2) rotate(-90)"><text x="0" y="0" font-size="18" font-weight="bold" textLength="167.4">Number of impacts</text><text x="178" y="0" font-size="18" font-weight="bold" textLength="110.6">(&lt;H per Myr)</text></g>
<text x="83.6" y="100.2" font-size="18" font-weight="bold" textLength="97.4">Impact flux</text>
<text x="135.2" y="43" font-size="14" fill="#111">Harris &amp; Chodas (2021)</text>
<text x="223.8" y="74.2" font-size="14.3" letter-spacing="-0.2" font-weight="bold">Brown+02</text>
<text x="154.7" y="216.7" font-size="15" font-weight="bold" fill="#70a405">Venus</text>
<g transform="translate(248.8 137) rotate(-53)"><text x="0" y="5" font-size="15" font-weight="bold" fill="#4472c4" text-anchor="middle">Earth</text></g>
<g transform="translate(266.4 179.3) rotate(-54)"><text x="0" y="5" font-size="15" font-weight="bold" fill="#ff0000" text-anchor="middle">Mars</text></g>
<g transform="translate(271.6 221.4) rotate(-53)"><text x="0" y="5" font-size="15.5" font-weight="bold" fill="#000" text-anchor="middle">Mercury</text></g>
<g transform="translate(114.9 246.4) rotate(-90)"><text x="0" y="0" font-size="14.2" fill="#111">1km</text></g>
<text x="157.6" y="316.8" font-size="14.2" textLength="160" fill="#111">750 kyr between impacts</text>
</svg></body></html>
